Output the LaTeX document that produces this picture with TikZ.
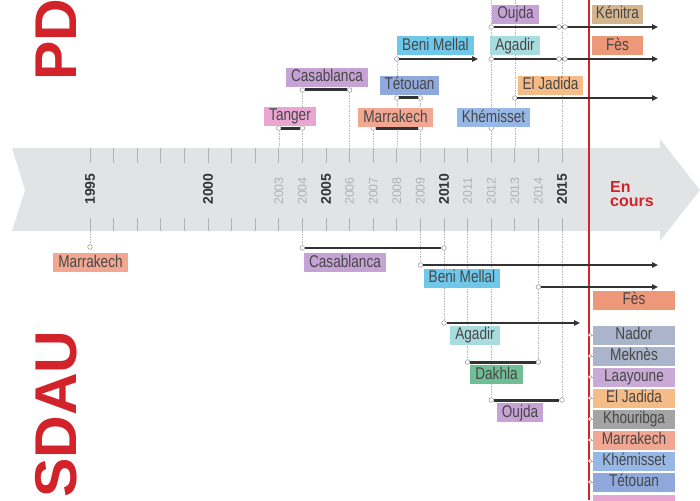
\documentclass[tikz,border=0pt]{standalone}
\usepackage{fontspec}
\setmainfont{Liberation Sans}
\newfontfamily\narrowsf{Liberation Sans}[FakeStretch=0.8]
\usetikzlibrary{arrows.meta, positioning}

\definecolor{pdred}{HTML}{D2232B}
\definecolor{ink}{HTML}{333333}
\definecolor{bandgray}{HTML}{E1E3E5}
\definecolor{cTanger}{HTML}{E9A6D0}
\definecolor{cCasa}{HTML}{C6A2D5}
\definecolor{cMarra}{HTML}{F1A792}
\definecolor{cTetou}{HTML}{8FA9DC}
\definecolor{cBeni}{HTML}{6FC8EA}
\definecolor{cKhemi}{HTML}{97B8E6}
\definecolor{cAgadir}{HTML}{A9DCDF}
\definecolor{cJadida}{HTML}{F5BC88}
\definecolor{cKenitra}{HTML}{D5B58E}
\definecolor{cFes}{HTML}{EC9879}
\definecolor{cDakhla}{HTML}{6FBE95}
\definecolor{cNador}{HTML}{AAB4CA}
\definecolor{cLaay}{HTML}{C9A9D6}
\definecolor{cKhouri}{HTML}{A4A4A4}

\newcommand{\yr}[1]{\fpeval{90+23.6*(#1-1995)}}

\begin{document}
\begin{tikzpicture}[x=1pt, y=-1pt,
  city/.style={rectangle, fill=#1, inner xsep=5pt, inner ysep=1.5pt,
               text height=12.5pt, text depth=3.5pt, text=black!72,
               font=\narrowsf\fontsize{17}{17}\selectfont},
  fixw/.style={minimum width=#1, inner xsep=0pt},
  evdot/.style={circle, draw=gray!75, fill=white, line width=0.6pt,
                inner sep=0pt, minimum size=4.6pt},
  coldot/.style={evdot, minimum size=3.6pt},
  period/.style={draw=ink, line width=3pt},
  periodthin/.style={draw=ink, line width=1.8pt},
  arrow/.style={draw=ink, line width=1.6pt, -{Triangle[length=6pt, width=5.5pt]}},
  lead/.style={draw=gray!55, line width=0.6pt, dash pattern=on 1.5pt off 1pt},
  yeartick/.style={draw=gray!60, line width=0.8pt},
  yearbig/.style={rotate=90, font=\bfseries\fontsize{14}{14}\selectfont, text=ink},
  yearsmall/.style={rotate=90, font=\fontsize{12.5}{12.5}\selectfont, text=gray!60},
  plan/.style={rotate=90, anchor=base west, inner sep=0pt, text=pdred,
               font=\bfseries\fontsize{59}{59}\selectfont}
]
\useasboundingbox (0,0) rectangle (700,500);

% time band
\fill[bandgray] (12,148) -- (660,148) -- (660,139) -- (700,190) -- (660,241)
  -- (660,231) -- (12,231) -- (25,190) -- cycle;
\foreach \y in {1995,...,2015} {
  \draw[yeartick] (\yr{\y},148) -- (\yr{\y},163);
  \draw[yeartick] (\yr{\y},218) -- (\yr{\y},231);
  \coordinate (t\y) at (\yr{\y},148);
  \coordinate (b\y) at (\yr{\y},231);
}
\foreach \y in {1995,2000,2005,2010,2015}
  \node[yearbig] (y\y) at (\yr{\y},189) {\y};
\foreach \y in {2003,2004,2006,2007,2008,2009,2011,2012,2013,2014}
  \node[yearsmall] (y\y) at (\yr{\y},191) {\y};
\node[anchor=west, align=left, inner sep=0pt, text=pdred,
      font=\bfseries\fontsize{16}{14.5}\selectfont] (now) at (610,194) {En\\cours};

% red line
\coordinate (topedge) at (0,0);
\coordinate (rtop) at (589,0);
\coordinate (rbot) at (589,500);
\draw[pdred, line width=1.5pt] (rtop) -- (rbot);

% PDU events
\node[evdot] (tgA) at (\yr{2003},128) {};
\node[evdot] (tgB) at (\yr{2004},128) {};
\node[evdot] (csA) at (\yr{2004},90) {};
\node[evdot] (csB) at (\yr{2006},90) {};
\node[evdot] (mkA) at (\yr{2007},128) {};
\node[evdot] (mkB) at (\yr{2009},128) {};
\node[evdot] (ttA) at (\yr{2008},98) {};
\node[evdot] (ttB) at (\yr{2009},98) {};
\node[evdot] (bmA) at (\yr{2008},59) {};
\node[evdot] (khA) at (\yr{2012},128) {};
\node[evdot] (ojA) at (\yr{2012},27) {};
\node[evdot] (agA) at (\yr{2012},59) {};
\node[evdot] (jdA) at (\yr{2013},98) {};

\draw[lead] (tgA) -- (t2003);
\draw[lead] (csA) -- (tgB);
\draw[lead] (tgB) -- (t2004);
\draw[lead] (csB) -- (t2006);
\draw[lead] (mkA) -- (t2007);
\draw[lead] (bmA) -- (ttA);
\draw[lead] (ttA) -- (t2008);
\draw[lead] (ttB) -- (mkB);
\draw[lead] (mkB) -- (t2009);
\draw[lead] (ojA |- topedge) -- (ojA);
\draw[lead] (ojA) -- (agA);
\draw[lead] (agA) -- (khA);
\draw[lead] (khA) -- (t2012);
\draw[lead] (jdA |- topedge) -- (jdA);
\draw[lead] (jdA) -- (t2013);
\draw[lead] (t2015 |- topedge) -- (t2015);

\draw[period] (tgA) -- (tgB);
\draw[period] (csA) -- (csB);
\draw[period] (mkA) -- (mkB);
\draw[period] (ttA) -- (ttB);
\coordinate (bmEnd) at (478,59);
\coordinate (ojEnd) at (658,27);
\coordinate (agEnd) at (658,59);
\coordinate (jdEnd) at (658,98);
\draw[arrow] (bmA) -- (bmEnd);
\draw[arrow] (ojA) -- (ojEnd);
\draw[arrow] (agA) -- (agEnd);
\draw[arrow] (jdA) -- (jdEnd);
\node[evdot, xshift=-3pt] (ojB) at (\yr{2015},27) {};
\node[evdot, xshift=3pt]  (knA) at (\yr{2015},27) {};
\node[evdot, xshift=-3pt] (agB) at (\yr{2015},59) {};
\node[evdot, xshift=3pt]  (fsTA) at (\yr{2015},59) {};

\node[city=cTanger]  (tangerT) at (290,116.5) {Tanger};
\node[city=cCasa]    (casaT)   at (327,77.5)  {Casablanca};
\node[city=cMarra]   (marraT)  at (395.5,117.5) {Marrakech};
\node[city=cTetou]   (tetouT)  at (409.5,85.5) {Tétouan};
\node[city=cBeni]    (beniT)   at (435.5,46)  {Beni Mellal};
\node[city=cKhemi]   (khemT)   at (493.5,117.5) {Khémisset};
\node[city=cCasa]    (oujdaT)  at (515.5,14.5) {Oujda};
\node[city=cAgadir]  (agadirT) at (515,46)    {Agadir};
\node[city=cJadida]  (jadidaT) at (550.5,85.5) {El Jadida};
\node[city=cKenitra, fixw=51pt] (kenitraT) at (617.5,14.5) {Kénitra};
\node[city=cFes, fixw=51pt]     (fesT)     at (617.5,46)   {Fès};

% SDAU events
\node[evdot] (mrA) at (\yr{1995},247) {};
\node[evdot] (cbA) at (\yr{2004},248) {};
\node[evdot] (cbB) at (\yr{2010},248) {};
\node[evdot] (bbA) at (\yr{2009},265) {};
\node[evdot] (fsA) at (\yr{2014},287) {};
\node[evdot] (abA) at (\yr{2010},323) {};
\node[evdot] (dkA) at (\yr{2011},362) {};
\node[evdot] (dkB) at (\yr{2014},362) {};
\node[evdot] (obA) at (\yr{2012},400) {};
\node[evdot] (obB) at (\yr{2015},400) {};

\draw[lead] (b1995) -- (mrA);
\draw[lead] (b2004) -- (cbA);
\draw[lead] (b2010) -- (cbB);
\draw[lead] (cbB) -- (abA);
\draw[lead] (b2009) -- (bbA);
\draw[lead] (b2014) -- (fsA);
\draw[lead] (fsA) -- (dkB);
\draw[lead] (b2011) -- (dkA);
\draw[lead] (b2012) -- (obA);
\draw[lead] (b2015) -- (obB);

\coordinate (bbEnd) at (658,265);
\coordinate (fsEnd) at (658,287);
\coordinate (abEnd) at (580,323);
\draw[periodthin] (cbA) -- (cbB);
\draw[arrow] (bbA) -- (bbEnd);
\draw[arrow] (fsA) -- (fsEnd);
\draw[arrow] (abA) -- (abEnd);
\draw[period] (dkA) -- (dkB);
\draw[period] (obA) -- (obB);

\node[city=cMarra]  (marraB)  at (90.5,262.5) {Marrakech};
\node[city=cCasa]   (casaB)   at (345,262.5)  {Casablanca};
\node[city=cBeni]   (beniB)   at (462,278)    {Beni Mellal};
\node[city=cFes, fixw=82pt] (fesB) at (634,300) {Fès};
\node[city=cAgadir] (agadirB) at (475,335)    {Agadir};
\node[city=cDakhla] (dakhlaB) at (496.5,374.5) {Dakhla};
\node[city=cCasa]   (oujdaB)  at (520,412.5)  {Oujda};

% SDAU in progress
\node[city=cNador, fixw=82pt]   (c1) at (634,335) {Nador};
\node[city=cNador, fixw=82pt]   (c2) at (634,356) {Meknès};
\node[city=cLaay, fixw=82pt]    (c3) at (634,377) {Laayoune};
\node[city=cJadida, fixw=82pt]  (c4) at (634,398) {El Jadida};
\node[city=cKhouri, fixw=82pt]  (c5) at (634,419) {Khouribga};
\node[city=cMarra, fixw=82pt]   (c6) at (634,440) {Marrakech};
\node[city=cKhemi, fixw=82pt]   (c7) at (634,461) {Khémisset};
\node[city=cTetou, fixw=82pt]   (c8) at (634,482) {Tétouan};
\node[city=cTanger, fixw=82pt]  (c9) at (634,504) {};
\foreach \i/\yy in {1/335,2/356,3/377,4/398,5/419,6/440,7/461,8/482,9/504} {
  \node[coldot] (d\i) at (590,\yy) {};
  \draw[gray!70, line width=0.6pt] (d\i) -- (c\i.west);
}

% section titles
\node[plan] (pdu)  at (76,81)  {PD};
\node[plan] (sdau) at (76,498) {SDAU};
\end{tikzpicture}
\end{document}
